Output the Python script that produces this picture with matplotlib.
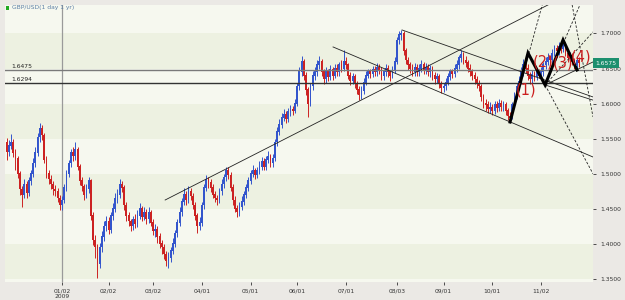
import matplotlib
matplotlib.use("Agg")
import matplotlib.pyplot as plt
import numpy as np
import pandas as pd

# ---------------- data ----------------
start_date = "2008-11-28"
first_open = 1.545
closes = [
 1.531,1.540,1.545,1.530,1.522,1.500,1.478,1.470,1.485,1.472,
 1.490,1.500,1.515,1.530,1.552,1.565,1.555,1.520,1.500,1.492,
 1.485,1.478,1.475,1.465,1.455,1.462,1.480,1.500,1.515,1.530,
 1.525,1.535,1.510,1.490,1.482,1.470,1.478,1.490,1.440,1.405,
 1.395,1.372,1.395,1.410,1.425,1.432,1.420,1.440,1.450,1.465,
 1.470,1.485,1.480,1.455,1.440,1.432,1.425,1.435,1.428,1.440,
 1.450,1.438,1.445,1.435,1.445,1.430,1.418,1.420,1.410,1.400,
 1.395,1.385,1.375,1.380,1.390,1.400,1.415,1.430,1.445,1.460,
 1.470,1.462,1.475,1.468,1.455,1.440,1.425,1.430,1.455,1.480,
 1.492,1.488,1.480,1.470,1.465,1.462,1.475,1.485,1.495,1.505,
 1.498,1.480,1.462,1.450,1.445,1.452,1.460,1.470,1.480,1.490,
 1.500,1.505,1.498,1.505,1.510,1.518,1.510,1.520,1.525,1.515,
 1.522,1.545,1.560,1.570,1.580,1.585,1.578,1.588,1.592,1.590,
 1.600,1.625,1.645,1.660,1.640,1.620,1.600,1.625,1.640,1.645,
 1.655,1.660,1.645,1.635,1.645,1.638,1.648,1.640,1.650,1.645,
 1.655,1.650,1.660,1.655,1.640,1.632,1.638,1.628,1.620,1.612,
 1.618,1.630,1.640,1.645,1.642,1.648,1.645,1.652,1.648,1.640,
 1.645,1.650,1.645,1.640,1.648,1.660,1.690,1.698,1.700,1.675,
 1.662,1.655,1.650,1.645,1.652,1.645,1.650,1.655,1.648,1.652,
 1.645,1.650,1.640,1.635,1.638,1.628,1.622,1.625,1.630,1.638,
 1.645,1.642,1.650,1.655,1.665,1.670,1.662,1.658,1.650,1.645,
 1.640,1.635,1.628,1.625,1.610,1.600,1.598,1.592,1.595,1.590,
 1.598,1.594,1.600,1.595,1.598,1.590,1.582,1.580,1.598,1.610,
 1.625,1.632,1.645,1.655,1.650,1.640,1.635,1.642,1.638,1.645,
 1.640,1.645,1.655,1.660,1.665,1.662,1.672,1.678,1.675,1.682,
 1.678,1.685,1.672,1.665,1.668,1.660,1.655,1.662,1.6575]
highs = [
 1.551,1.548,1.556,1.550,1.536,1.525,1.504,1.482,1.492,1.490,
 1.496,1.506,1.522,1.538,1.558,1.572,1.569,1.558,1.525,1.506,
 1.498,1.490,1.484,1.480,1.470,1.468,1.486,1.506,1.520,1.536,
 1.538,1.545,1.538,1.514,1.495,1.486,1.485,1.496,1.492,1.446,
 1.412,1.400,1.402,1.418,1.432,1.440,1.438,1.446,1.458,1.472,
 1.478,1.492,1.490,1.484,1.460,1.446,1.436,1.440,1.442,1.448,
 1.458,1.454,1.452,1.450,1.452,1.448,1.435,1.428,1.425,1.415,
 1.406,1.400,1.390,1.388,1.396,1.408,1.420,1.436,1.452,1.466,
 1.480,1.476,1.482,1.480,1.472,1.460,1.444,1.438,1.460,1.486,
 1.498,1.496,1.492,1.485,1.476,1.470,1.480,1.492,1.500,1.510,
 1.510,1.502,1.485,1.468,1.455,1.460,1.468,1.476,1.486,1.496,
 1.505,1.512,1.508,1.510,1.518,1.524,1.522,1.526,1.532,1.528,
 1.528,1.550,1.566,1.578,1.586,1.592,1.590,1.594,1.598,1.597,
 1.606,1.630,1.652,1.668,1.664,1.645,1.624,1.630,1.646,1.652,
 1.662,1.668,1.664,1.650,1.652,1.650,1.655,1.652,1.656,1.656,
 1.660,1.662,1.676,1.666,1.658,1.645,1.644,1.642,1.632,1.625,
 1.625,1.636,1.646,1.650,1.650,1.654,1.654,1.658,1.656,1.652,
 1.650,1.656,1.655,1.648,1.654,1.666,1.695,1.704,1.705,1.703,
 1.680,1.666,1.660,1.656,1.658,1.656,1.656,1.662,1.660,1.658,
 1.656,1.655,1.654,1.645,1.644,1.642,1.632,1.630,1.636,1.644,
 1.650,1.650,1.656,1.662,1.670,1.677,1.674,1.668,1.662,1.656,
 1.650,1.645,1.640,1.634,1.628,1.614,1.606,1.604,1.602,1.600,
 1.604,1.604,1.606,1.605,1.604,1.602,1.594,1.588,1.602,1.616,
 1.630,1.640,1.652,1.664,1.662,1.656,1.645,1.648,1.646,1.650,
 1.650,1.652,1.660,1.666,1.672,1.670,1.678,1.684,1.684,1.688,
 1.686,1.690,1.688,1.676,1.674,1.672,1.665,1.668,1.666]
lows = [
 1.520,1.526,1.535,1.524,1.505,1.494,1.470,1.452,1.465,1.466,
 1.468,1.484,1.495,1.510,1.526,1.545,1.548,1.515,1.494,1.486,
 1.478,1.470,1.468,1.460,1.448,1.449,1.458,1.476,1.496,1.510,
 1.518,1.520,1.505,1.484,1.475,1.462,1.466,1.472,1.434,1.398,
 1.380,1.351,1.366,1.388,1.404,1.418,1.414,1.415,1.434,1.445,
 1.458,1.465,1.474,1.448,1.432,1.425,1.418,1.420,1.422,1.424,
 1.436,1.432,1.434,1.428,1.430,1.425,1.412,1.410,1.402,1.394,
 1.386,1.378,1.368,1.365,1.374,1.385,1.396,1.410,1.425,1.440,
 1.455,1.456,1.458,1.462,1.450,1.434,1.415,1.420,1.426,1.450,
 1.475,1.480,1.474,1.465,1.460,1.455,1.458,1.470,1.480,1.490,
 1.492,1.475,1.456,1.445,1.438,1.440,1.448,1.455,1.465,1.476,
 1.485,1.495,1.492,1.494,1.500,1.506,1.505,1.506,1.515,1.510,
 1.510,1.518,1.540,1.555,1.565,1.575,1.572,1.574,1.582,1.584,
 1.586,1.596,1.620,1.640,1.634,1.612,1.581,1.596,1.620,1.634,
 1.640,1.650,1.640,1.628,1.630,1.632,1.634,1.634,1.636,1.640,
 1.640,1.645,1.646,1.650,1.635,1.626,1.628,1.622,1.614,1.605,
 1.607,1.614,1.626,1.636,1.636,1.638,1.640,1.640,1.642,1.634,
 1.634,1.640,1.638,1.632,1.636,1.644,1.656,1.685,1.690,1.670,
 1.656,1.648,1.644,1.640,1.640,1.640,1.640,1.645,1.642,1.642,
 1.640,1.638,1.634,1.628,1.630,1.622,1.615,1.616,1.620,1.626,
 1.634,1.636,1.638,1.645,1.650,1.660,1.656,1.652,1.645,1.640,
 1.634,1.628,1.622,1.618,1.604,1.594,1.590,1.586,1.586,1.584,
 1.585,1.588,1.590,1.590,1.590,1.584,1.576,1.574,1.578,1.594,
 1.606,1.620,1.628,1.640,1.644,1.634,1.628,1.630,1.632,1.634,
 1.636,1.636,1.640,1.650,1.655,1.656,1.658,1.668,1.670,1.670,
 1.672,1.674,1.668,1.660,1.660,1.655,1.650,1.650,1.652]

ytick_values = [1.35, 1.40, 1.45, 1.50, 1.55, 1.60, 1.65, 1.70]
xtick_dates = ["2009-01-02","2009-02-02","2009-03-02","2009-04-01","2009-05-01",
               "2009-06-01","2009-07-01","2009-08-03","2009-09-01","2009-10-01","2009-11-02"]
xtick_labels = ["01/02","02/02","03/02","04/01","05/01","06/01","07/01","08/03","09/01","10/01","11/02"]
hlines = [1.6475, 1.6294]
last_price = 1.6575

# trendlines (bar index, price) pairs
trend_solid = [
    ((71.5, 1.4626), (244.1, 1.7407)),
    ((147.2, 1.6808), (264.4, 1.5239)),
    ((178.3, 1.7050), (264.4, 1.6095)),
    ((242.8, 1.6266), (264.4, 1.6594)),
    ((242.8, 1.6266), (264.4, 1.6050)),
]
trend_dashed = [
    ((242.8, 1.6266), (264.4, 1.7022)),
    ((242.8, 1.6266), (258.5, 1.7407)),
    ((242.8, 1.6266), (264.4, 1.5000)),
    ((227.0, 1.5738), (241.5, 1.7407)),
    ((255.0, 1.7407), (264.4, 1.5810)),
]
pattern_x = [227.0, 235.1, 242.8, 250.9, 257.2]
pattern_y = [1.5738, 1.6722, 1.6266, 1.6908, 1.6480]
pattern_labels = ["(1)", "(2)", "(3)", "(4)"]
label_pos = [(234.0, 1.6195), (242.0, 1.6600), (251.0, 1.6580), (258.8, 1.6665)]

# ---------------- figure ----------------
W, H = 625, 300
fig = plt.figure(figsize=(W/100, H/100), dpi=100)
fig.patch.set_facecolor("#ebe9e5")
ax = fig.add_axes([5/W, 1-282/H, (593-5)/W, (282-5)/H])
ax.set_facecolor("#f6f8ef")

n = len(closes)
x = np.arange(n)
c = np.array(closes)
o = np.concatenate([[first_open], c[:-1]])
h = np.array(highs)
l = np.array(lows)

ax.set_xlim(-0.7, 264.4)
ax.set_ylim(1.3457, 1.7406)

# alternating bands
for yb in np.arange(1.35, 1.75, 0.05):
    if round((yb - 1.35) / 0.05) % 2 == 0:
        ax.axhspan(yb, yb + 0.05, color="#edf1e1", lw=0, zorder=0)

dates = pd.bdate_range(start_date, periods=n)
date_idx = {d.strftime("%Y-%m-%d"): i for i, d in enumerate(dates)}
xt = [date_idx[d] for d in xtick_dates]

# year separator
ax.axvline(xt[0], color="#9a9a9a", lw=0.9, zorder=1)

up = c >= o
colors = np.where(up, "#3355cc", "#cc2222")
ax.vlines(x, l, h, colors=colors, lw=0.7, zorder=2)
ax.bar(x, np.abs(c - o) + 0.0008, bottom=np.minimum(o, c), width=0.8, color=colors, lw=0, zorder=3)

# horizontal levels
ax.axhline(hlines[0], color="#7a7a7a", lw=1.0, zorder=4)
ax.axhline(hlines[1], color="#333333", lw=1.0, zorder=4)
for yv in hlines:
    ax.text(2.0, yv + 0.0012, f"{yv:.4f}", fontsize=4.3, color="#222222", va="bottom", ha="left", zorder=6)

for (p0, p1) in trend_solid:
    ax.plot([p0[0], p1[0]], [p0[1], p1[1]], color="#222222", lw=0.6, zorder=4, clip_on=True)
for (p0, p1) in trend_dashed:
    ax.plot([p0[0], p1[0]], [p0[1], p1[1]], color="#222222", lw=0.6, ls=(0, (3, 2)), zorder=4, clip_on=True)

ax.plot(pattern_x, pattern_y, color="black", lw=2.2, zorder=5, solid_joinstyle="miter")
for t, (px, py) in zip(pattern_labels, label_pos):
    ax.text(px, py, t, fontsize=10.5, color="#cc1f1f", ha="center", va="center", zorder=6)

# axes styling
for s in ax.spines.values():
    s.set_visible(False)
ax.yaxis.tick_right()
ax.set_yticks(ytick_values)
ax.set_yticklabels([f"{v:.4f}" for v in ytick_values])
ax.set_xticks(xt)
ax.set_xticklabels(xtick_labels)
ax.tick_params(axis="both", labelsize=4.3, colors="#333333", length=2.5, width=0.6, pad=2.5)
ax.tick_params(axis="y", pad=3)

# 2009 under first tick
fig.text(62/W, 1-297/H, "2009", fontsize=4.3, color="#333333", ha="center", va="center")

# title
fig.patches.append(plt.Rectangle((6/W, 1-9.5/H), 3.5/W, 3.5/H, transform=fig.transFigure,
                                 color="#22aa22", lw=0))
fig.text(12/W, 1-7.5/H, "GBP/USD(1 day 1 yr)", fontsize=4.3, color="#5b7ea6", ha="left", va="center")

# last price tag
ax.annotate(f"{last_price:.4f}", xy=(1.0, last_price), xycoords=("axes fraction", "data"),
            xytext=(1.5, 0), textcoords="offset points", fontsize=4.3, color="white",
            ha="left", va="center", annotation_clip=False,
            bbox=dict(boxstyle="square,pad=0.4", fc="#1c8f6e", ec="none"))

fig.savefig("out.png", dpi=100, facecolor=fig.get_facecolor())
